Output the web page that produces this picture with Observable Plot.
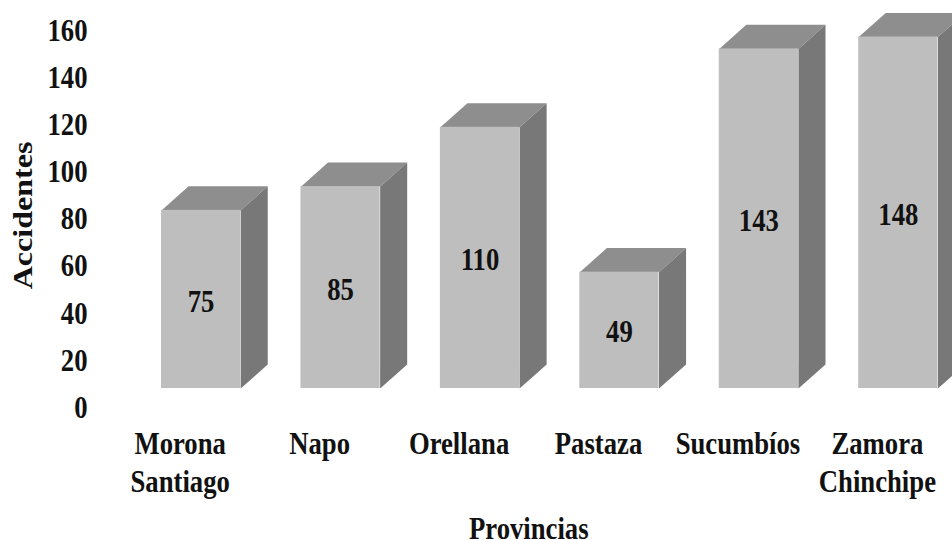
<!DOCTYPE html>
<html>
<head>
<meta charset="utf-8">
<script src="https://cdn.jsdelivr.net/npm/d3@7"></script>
<script src="https://cdn.jsdelivr.net/npm/@observablehq/plot@0.6"></script>
<style>
html,body{margin:0;padding:0;background:#fff;overflow:hidden}
svg{display:block}
</style>
</head>
<body>
<div id="chart"></div>
<script>
const provinces = ["Morona Santiago", "Napo", "Orellana", "Pastaza", "Sucumbíos", "Zamora Chinchipe"];
const provinceLabels = ["Morona\nSantiago", "Napo", "Orellana", "Pastaza", "Sucumbíos", "Zamora\nChinchipe"];
const accidents = [75, 85, 110, 49, 143, 148];
const yTicks = [0, 20, 40, 60, 80, 100, 120, 140, 160];
const yTitle = "Accidentes";
const xTitle = "Provincias";

// 3-D look of the original, in data units
const floorLift = 8.05, barStretch = 1.008, halfWidth = 0.284, depthX = 0.194, depthY = 10.2;
const frontColor = "#bebebe", topColor = "#8e8e8e", sideColor = "#787878";
const font = "'Liberation Serif','Times New Roman',serif";

const bars = accidents.map((v, i) => ({
  i, v, name: provinces[i], label: provinceLabels[i],
  x1: i - halfWidth, x2: i + halfWidth,
  y1: floorLift, y2: floorLift + v * barStretch
}));
const topFace = bars.flatMap(b => [
  {k: b.i, x: b.x1, y: b.y2},
  {k: b.i, x: b.x2, y: b.y2},
  {k: b.i, x: b.x2 + depthX, y: b.y2 + depthY},
  {k: b.i, x: b.x1 + depthX, y: b.y2 + depthY}
]);
const sideFace = bars.flatMap(b => [
  {k: b.i, x: b.x2, y: b.y1},
  {k: b.i, x: b.x2, y: b.y2},
  {k: b.i, x: b.x2 + depthX, y: b.y2 + depthY},
  {k: b.i, x: b.x2 + depthX, y: b.y1 + depthY}
]);

const textStyle = {fontFamily: font, fontWeight: "bold", fontSize: 26.7, fill: "#111"};

const plot = Plot.plot({
  width: 952,
  height: 540,
  marginLeft: 87,
  marginRight: 0,
  marginTop: 0,
  marginBottom: 0,
  style: {background: "#fff", fontFamily: font},
  x: {type: "linear", domain: [0, 5], range: [200.6, 897.8], axis: null},
  y: {domain: [0, 160], range: [407, 30]},
  marks: [
    Plot.axisY(yTicks, {anchor: "left", tickSize: 0, tickPadding: 0, label: null, tickFormat: d => String(d), ...textStyle}),
    Plot.line(topFace, {x: "x", y: "y", z: "k", fill: topColor, stroke: "none"}),
    Plot.line(sideFace, {x: "x", y: "y", z: "k", fill: sideColor, stroke: "none"}),
    Plot.rect(bars, {x1: "x1", x2: "x2", y1: "y1", y2: "y2", fill: frontColor, inset: 0}),
    Plot.text(bars, {x: "i", y: b => (b.y1 + b.y2) / 2 - 0.8, text: b => String(b.v), ...textStyle}),
    Plot.text(bars, {x: b => b.i - 0.15, y: -8.7, text: "label", lineAnchor: "top", lineHeight: 1.16, ...textStyle}),
    Plot.text([xTitle], {x: 2.35, y: -51.5, text: d => d, ...textStyle}),
    Plot.text([yTitle], {x: -1.275, y: 81.5, text: d => d, rotate: -90, ...textStyle})
  ]
});

// The original picture is stretched vertically: apply the same stretch to the real text.
plot.querySelectorAll("text").forEach(t => {
  const tr = t.getAttribute("transform") || "";
  t.setAttribute("transform", tr + (tr.includes("rotate") ? " scale(1.2 1)" : " scale(1 1.2)"));
});
document.getElementById("chart").append(plot);
</script>
</body>
</html>
